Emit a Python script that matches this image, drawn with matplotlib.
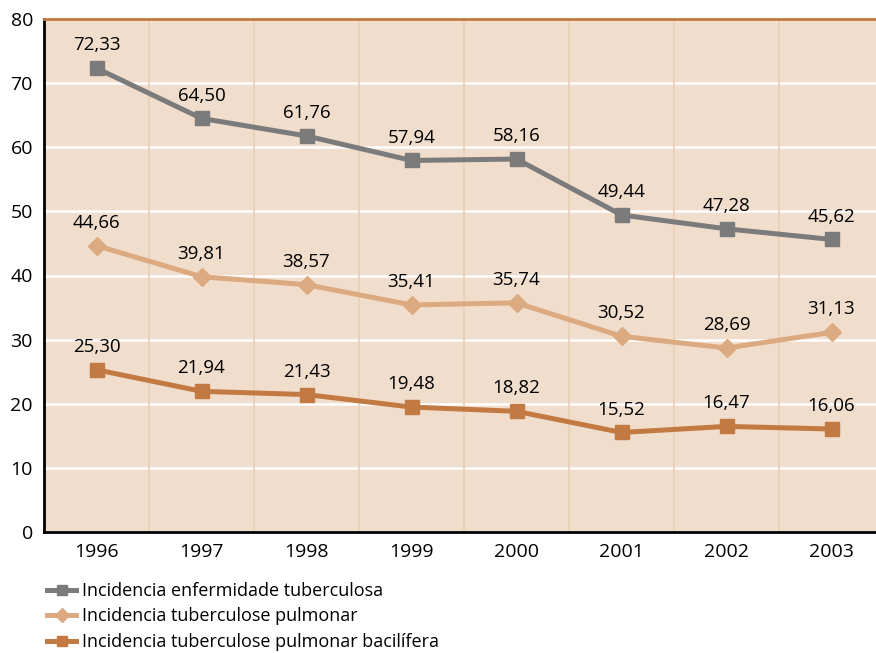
import matplotlib
matplotlib.use('Agg')
import matplotlib.pyplot as plt
from matplotlib.lines import Line2D

# === Data === #
years = ['1996', '1997', '1998', '1999', '2000', '2001', '2002', '2003']
enfermidade = [72.33, 64.50, 61.76, 57.94, 58.16, 49.44, 47.28, 45.62]
pulmonar = [44.66, 39.81, 38.57, 35.41, 35.74, 30.52, 28.69, 31.13]
bacilifera = [25.30, 21.94, 21.43, 19.48, 18.82, 15.52, 16.47, 16.06]

series = [
    ('Incidencia enfermidade tuberculosa', enfermidade, '#7b7b7b', 's', 10),
    ('Incidencia tuberculose pulmonar', pulmonar, '#dcaa80', 'D', 9),
    ('Incidencia tuberculose pulmonar bacilífera', bacilifera, '#c27a42', 's', 10),
]

plt.rcParams['font.family'] = ['Open Sans', 'DejaVu Sans']

fig = plt.figure(figsize=(8.76, 6.53), dpi=100)
ax = fig.add_axes([44 / 876, 121 / 653, 1 - 44 / 876, (532 - 19) / 653])
ax.set_facecolor('#f0ddcc')

x = list(range(len(years)))
handles = []
for name, vals, color, marker, ms in series:
    ax.plot(x, vals, color=color, lw=3.6, marker=marker, ms=ms, zorder=3)
    for xi, v in zip(x, vals):
        ax.annotate(f'{v:.2f}'.replace('.', ','), (xi, v), xytext=(0, 10),
                    textcoords='offset points', ha='center', va='bottom',
                    fontsize=13.5, color='black', zorder=4)
    handles.append(Line2D([], [], color=color, lw=3.6, marker=marker, ms=ms * 0.75))

# grid: white horizontal, tan vertical between categories
for yv in range(10, 80, 10):
    ax.axhline(yv, color='white', lw=1.8, zorder=1)
for xb in range(len(years)):
    ax.axvline(xb + 0.5, color='#e9cfb6', lw=1.2, zorder=1)

ax.set_xlim(-0.5, -0.5 + 832 / 105)
ax.set_ylim(0, 80)
ax.set_yticks(range(0, 81, 10))
ax.set_xticks(x)
ax.set_xticklabels(years)
ax.tick_params(length=0, labelsize=14, pad=8, labelcolor='black')
ax.tick_params(axis='y', pad=8)

ax.spines['left'].set_color('black')
ax.spines['left'].set_linewidth(2)
ax.spines['bottom'].set_color('black')
ax.spines['bottom'].set_linewidth(2)
ax.spines['top'].set_color('#c27a42')
ax.spines['top'].set_linewidth(2)
ax.spines['right'].set_visible(False)

fig.legend(handles, [s[0] for s in series], loc='upper left',
           bbox_to_anchor=(0.054, 0.109), frameon=False, fontsize=13,
           handlelength=1.6, handletextpad=0.3, labelspacing=0.42,
           borderpad=0, borderaxespad=0)

fig.savefig('out.png', dpi=100)
